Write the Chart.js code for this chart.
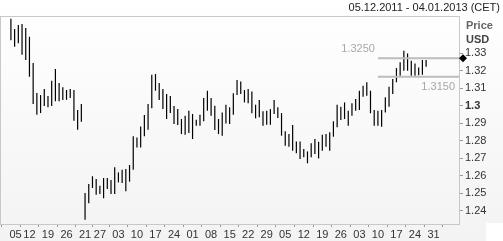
<!DOCTYPE html>
<html>
<head>
<meta charset="utf-8">
<script src="https://cdn.jsdelivr.net/npm/chart.js@4"></script>
<style>
  html, body { margin: 0; padding: 0; background: #fff; }
  canvas { display: block; }
</style>
</head>
<body>
<canvas id="priceChart" width="503" height="241"></canvas>
<script>
// daily highs / lows (USD), Dec 2011 then 21 Aug 2012 onward
const highs = [
  1.3497, 1.3438, 1.3461, 1.3467, 1.3444, 1.3394, 1.3244, 1.3073, 1.3061, 1.3095,
  1.3055, 1.3143, 1.3210, 1.3130, 1.3105, 1.3090, 1.3095, 1.3090, 1.2975, 1.3010,
  1.2501, 1.2553, 1.2597, 1.2581, 1.2543, 1.2587, 1.2587, 1.2575, 1.2648, 1.2619,
  1.2634, 1.2638, 1.2661, 1.2825, 1.2819, 1.2882, 1.2947, 1.3010, 1.3177, 1.3181,
  1.3130, 1.3095, 1.3067, 1.3055, 1.2998, 1.2981, 1.2924, 1.2943, 1.2971, 1.2953,
  1.2920, 1.2949, 1.3044, 1.3086, 1.3044, 1.3000, 1.2924, 1.2962, 1.3006, 1.2991,
  1.3071, 1.3147, 1.3139, 1.3090, 1.3095, 1.3082, 1.3006, 1.3033, 1.2968, 1.2971,
  1.2981, 1.3033, 1.2991, 1.2958, 1.2854, 1.2838, 1.2890, 1.2796, 1.2796, 1.2753,
  1.2739, 1.2785, 1.2810, 1.2794, 1.2834, 1.2838, 1.2848, 1.2911, 1.3006, 1.2994,
  1.3019, 1.2971, 1.3014, 1.3038, 1.3086, 1.3114, 1.3134, 1.3086, 1.2975, 1.2971,
  1.2975, 1.3048, 1.3109, 1.3153, 1.3215, 1.3248, 1.3314, 1.3299, 1.3257, 1.3242,
  1.3219, 1.3261, 1.3261
];
const lows = [
  1.3375, 1.3337, 1.3357, 1.3291, 1.3261, 1.3166, 1.3010, 1.2949, 1.2958, 1.2998,
  1.2991, 1.2998, 1.3025, 1.3025, 1.3033, 1.3034, 1.3044, 1.2914, 1.2863, 1.2909,
  1.2349, 1.2442, 1.2530, 1.2491, 1.2495, 1.2471, 1.2524, 1.2495, 1.2495, 1.2562,
  1.2558, 1.2511, 1.2566, 1.2634, 1.2762, 1.2762, 1.2825, 1.2863, 1.2985, 1.3086,
  1.3033, 1.2981, 1.2924, 1.2958, 1.2895, 1.2890, 1.2838, 1.2834, 1.2844, 1.2810,
  1.2886, 1.2886, 1.2911, 1.2971, 1.2943, 1.2861, 1.2838, 1.2829, 1.2899, 1.2895,
  1.2949, 1.3061, 1.3067, 1.3019, 1.3014, 1.2957, 1.2928, 1.2934, 1.2886, 1.2891,
  1.2891, 1.2953, 1.2930, 1.2829, 1.2771, 1.2766, 1.2743, 1.2728, 1.2695, 1.2705,
  1.2671, 1.2705, 1.2724, 1.2699, 1.2743, 1.2766, 1.2743, 1.2823, 1.2877, 1.2918,
  1.2924, 1.2886, 1.2943, 1.2971, 1.2975, 1.3051, 1.3057, 1.2957, 1.2886, 1.2886,
  1.2880, 1.2962, 1.2994, 1.3067, 1.3134, 1.3171, 1.3200, 1.3200, 1.3171, 1.3171,
  1.3175, 1.3177, 1.3223
];

// week starts (Mondays) as bar positions
const xTickIndex = [0, 5, 10, 15, 20, 24, 29, 34, 39, 44, 49, 54, 59, 64, 69, 74, 79, 84, 89, 94, 99, 104, 109, 114];
const xTickLabels = ['05', '12', '19', '26', '21', '27', '03', '10', '17', '24', '01', '08', '15', '22', '29', '05', '12', '19', '26', '03', '10', '17', '24', '31'];
const yTicks = [1.24, 1.25, 1.26, 1.27, 1.28, 1.29, 1.30, 1.31, 1.32, 1.33];

// marked price levels
const levelValues = [1.3271, 1.3166];
const levelLabels = ['1.3250', '1.3150'];
const levelStart = 99;

const FONT = "'Liberation Sans', Arial, sans-serif";

const bars = highs.map((h, i) => ({ x: i, y: [lows[i], h] }));

const chartDecor = {
    id: 'chartDecor',
    beforeDraw(chart) {
        const ctx = chart.ctx;
        const g = ctx.createLinearGradient(0, 0, 0, chart.height);
        g.addColorStop(0, '#ffffff');
        g.addColorStop(1, '#f3f3f3');
        ctx.save();
        ctx.fillStyle = g;
        ctx.fillRect(0, 0, chart.width, chart.height);
        ctx.fillStyle = '#ffffff';
        ctx.fillRect(486, 223, chart.width - 486, chart.height - 223);
        ctx.restore();
    },
    afterDraw(chart) {
        const ctx = chart.ctx;
        const ca = chart.chartArea;
        const xs = chart.scales.x;
        const ys = chart.scales.y;
        ctx.save();

        // plot frame
        ctx.strokeStyle = '#c8c8c8';
        ctx.lineWidth = 1;
        ctx.strokeRect(ca.left - 0.5, ca.top + 0.5, ca.right - ca.left + 1, ca.bottom - ca.top);

        // level lines + labels
        const x0 = xs.getPixelForValue(levelStart);
        ctx.font = '11px ' + FONT;
        levelValues.forEach((v, i) => {
            const y = ys.getPixelForValue(v);
            ctx.strokeStyle = '#bdbdbd';
            ctx.lineWidth = 2;
            ctx.beginPath();
            ctx.moveTo(x0, y);
            ctx.lineTo(i === 0 ? ca.right + 4 : ca.right, y);
            ctx.stroke();
            ctx.fillStyle = '#a8a8a8';
            ctx.textAlign = 'right';
            ctx.textBaseline = 'middle';
            if (i === 0) {
                ctx.fillText(levelLabels[i], x0 - 3, y - 9);
            } else {
                ctx.fillText(levelLabels[i], ca.right - 4, y + 10);
            }
        });

        // current price marker
        const yd = ys.getPixelForValue(levelValues[0]);
        ctx.fillStyle = '#000';
        ctx.beginPath();
        ctx.moveTo(ca.right + 4, yd - 4);
        ctx.lineTo(ca.right + 8, yd);
        ctx.lineTo(ca.right + 4, yd + 4);
        ctx.lineTo(ca.right, yd);
        ctx.closePath();
        ctx.fill();

        // header texts
        ctx.textBaseline = 'middle';
        ctx.textAlign = 'right';
        ctx.fillStyle = '#222';
        ctx.font = '11px ' + FONT;
        ctx.fillText('05.12.2011 - 04.01.2013 (CET)', 500, 8);
        ctx.textAlign = 'left';
        ctx.font = 'bold 11px ' + FONT;
        ctx.fillStyle = '#666';
        ctx.fillText('Price', 466, 26);
        ctx.fillStyle = '#444';
        ctx.fillText('USD', 466, 40);
        ctx.restore();
    }
};

new Chart(document.getElementById('priceChart').getContext('2d'), {
    type: 'bar',
    data: {
        datasets: [{
            data: bars,
            backgroundColor: '#000',
            borderWidth: 0,
            inflateAmount: 0,
            barThickness: 1.2
        }]
    },
    options: {
        responsive: false,
        animation: false,
        layout: { padding: { top: 16, left: 1, right: 0, bottom: 0 } },
        plugins: {
            legend: { display: false },
            tooltip: { enabled: false }
        },
        scales: {
            x: {
                type: 'linear',
                min: -0.1,
                max: 118.3,
                afterBuildTicks: s => { s.ticks = xTickIndex.map(v => ({ value: v })); },
                afterFit: s => { s.height = 17; s.paddingLeft = 0; s.paddingRight = 0; },
                border: { display: false },
                grid: { drawOnChartArea: false, tickLength: 3, color: '#999' },
                ticks: {
                    autoSkip: false,
                    maxRotation: 0,
                    padding: 1,
                    color: '#333',
                    font: { family: FONT, size: 11 },
                    callback: (v, i) => i === 0 ? '   ' + xTickLabels[i] : xTickLabels[i]
                }
            },
            y: {
                position: 'right',
                min: 1.2324,
                max: 1.3513,
                afterBuildTicks: s => { s.ticks = yTicks.map(v => ({ value: v })); },
                afterFit: s => { s.width = 44; s.paddingTop = 0; s.paddingBottom = 0; },
                border: { display: false },
                grid: { drawOnChartArea: false, tickLength: 4, color: '#999' },
                ticks: {
                    padding: 2,
                    color: '#333',
                    font: c => ({
                        family: FONT,
                        size: 11,
                        weight: c.tick && Math.abs(c.tick.value - 1.3) < 1e-6 ? 'bold' : 'normal'
                    }),
                    callback: v => String(Number(v.toFixed(2)))
                }
            }
        }
    },
    plugins: [chartDecor]
});
</script>
</body>
</html>
